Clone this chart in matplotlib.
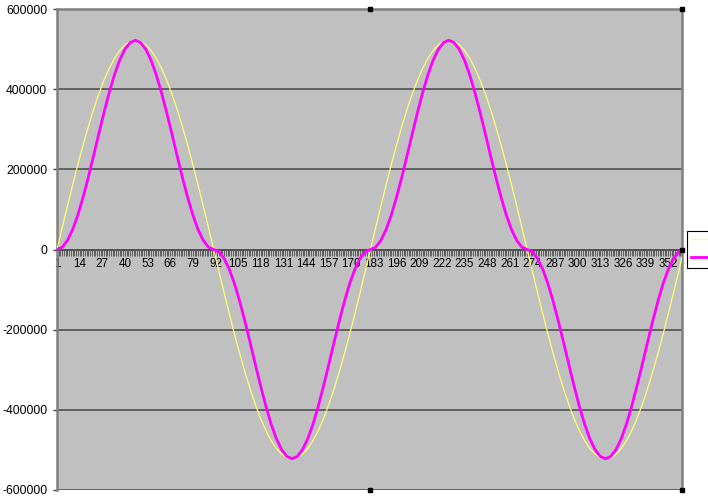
import matplotlib
matplotlib.use('Agg')
from matplotlib import pyplot as plt
from matplotlib.lines import Line2D
from matplotlib.ticker import FixedLocator

# category positions sampled every 3 points along the 1..360 axis
categories = list(range(1, 359, 3)) + [360]

yellow_values = [
    0, 54600, 108500, 161300, 212300, 261000, 306800, 349300, 387900, 422300, 452100,
    476800, 496500, 510600, 519100, 522000, 519100, 510600, 496500, 476800, 452100,
    422300, 387900, 349300, 306800, 261000, 212300, 161300, 108500, 54600,
    0, -54600, -108500, -161300, -212300, -261000, -306800, -349300, -387900, -422300, -452100,
    -476800, -496500, -510600, -519100, -522000, -519100, -510600, -496500, -476800, -452100,
    -422300, -387900, -349300, -306800, -261000, -212300, -161300, -108500, -54600,
    0, 54600, 108500, 161300, 212300, 261000, 306800, 349300, 387900, 422300, 452100,
    476800, 496500, 510600, 519100, 522000, 519100, 510600, 496500, 476800, 452100,
    422300, 387900, 349300, 306800, 261000, 212300, 161300, 108500, 54600,
    0, -54600, -108500, -161300, -212300, -261000, -306800, -349300, -387900, -422300, -452100,
    -476800, -496500, -510600, -519100, -522000, -519100, -510600, -496500, -476800, -452100,
    -422300, -387900, -349300, -306800, -261000, -212300, -161300, -108500, -54600,
    -18200]

magenta_values = [
    0, 5700, 22600, 49800, 86300, 130500, 180300, 233700, 288300, 341600, 391500,
    435700, 472200, 499400, 516300, 522000, 516300, 499400, 472200, 435700, 391500,
    341600, 288300, 233700, 180300, 130500, 86300, 49800, 22600, 5700,
    0, -5700, -22600, -49800, -86300, -130500, -180300, -233700, -288300, -341600, -391500,
    -435700, -472200, -499400, -516300, -522000, -516300, -499400, -472200, -435700, -391500,
    -341600, -288300, -233700, -180300, -130500, -86300, -49800, -22600, -5700,
    0, 5700, 22600, 49800, 86300, 130500, 180300, 233700, 288300, 341600, 391500,
    435700, 472200, 499400, 516300, 522000, 516300, 499400, 472200, 435700, 391500,
    341600, 288300, 233700, 180300, 130500, 86300, 49800, 22600, 5700,
    0, -5700, -22600, -49800, -86300, -130500, -180300, -233700, -288300, -341600, -391500,
    -435700, -472200, -499400, -516300, -522000, -516300, -499400, -472200, -435700, -391500,
    -341600, -288300, -233700, -180300, -130500, -86300, -49800, -22600, -5700,
    -600]

tick_labels = [1, 14, 27, 40, 53, 66, 79, 92, 105, 118, 131, 144, 157, 170, 183, 196, 209,
               222, 235, 248, 261, 274, 287, 300, 313, 326, 339, 352]
y_ticks = [-600000, -400000, -200000, 0, 200000, 400000, 600000]

plt.rcParams['font.family'] = ['Liberation Sans', 'DejaVu Sans']

fig = plt.figure(figsize=(7.08, 5.0), dpi=100)
ax = fig.add_axes([0.0805, 0.02, 0.883, 0.962])
ax.set_facecolor('#c0c0c0')

for y in y_ticks:
    ax.axhline(y, color='#585858', lw=1.3, zorder=1)

ax.plot(categories, yellow_values, color='#ffff70', lw=0.9, zorder=3)
ax.plot(categories, magenta_values, color='#ff00ff', lw=2.0, zorder=4)

ax.set_xlim(1, 360)
ax.set_ylim(-600000, 600000)
ax.set_yticks(y_ticks)
ax.set_yticklabels([str(v) for v in y_ticks], fontsize=8.7)
ax.tick_params(axis='y', length=3, width=1, color='#404040', pad=4)

ax.spines['bottom'].set_position(('data', 0))
ax.spines['bottom'].set_color('#505050')
ax.spines['bottom'].set_linewidth(1.2)
ax.xaxis.set_major_locator(FixedLocator(tick_labels))
ax.set_xticklabels([str(t) for t in tick_labels], fontsize=8.4)
ax.xaxis.set_minor_locator(FixedLocator(list(range(1, 361))))
ax.tick_params(axis='x', which='both', length=4, width=0.7, color='#606060',
               direction='out', pad=2)
for side in ['left', 'right', 'top']:
    ax.spines[side].set_color('#808080')
    ax.spines[side].set_linewidth(1.8)

# selection handles of the plot area
for hx, hy in [(0.5, 0), (1, 0), (0.5, 1), (1, 1), (1, 0.5)]:
    ax.plot([hx], [hy], marker='s', ms=3, color='black', transform=ax.transAxes,
            clip_on=False, zorder=6)

handles = [Line2D([], [], color='#ffff70', lw=0.9), Line2D([], [], color='#ff00ff', lw=2.0)]
leg = ax.legend(handles, ['', ''], loc='center left', bbox_to_anchor=(1.008, 0.5),
                borderaxespad=0, fancybox=False, framealpha=1, edgecolor='black',
                handlelength=1.8, borderpad=0.3, labelspacing=0.5, handletextpad=0.2,
                fontsize=8.5)
leg.get_frame().set_linewidth(0.8)

fig.savefig('out.png', dpi=100, facecolor='white')
